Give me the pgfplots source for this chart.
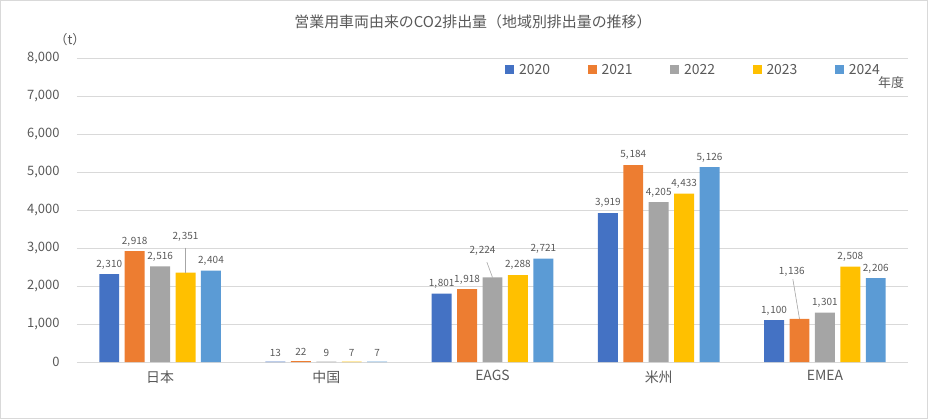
\documentclass[border=0pt]{standalone}
\usepackage{fontspec}
\setmainfont{Noto Sans CJK JP}
\usepackage{pgfplots}
\pgfplotsset{compat=1.18}

\definecolor{c20}{HTML}{4472C4}
\definecolor{c21}{HTML}{ED7D31}
\definecolor{c22}{HTML}{A5A5A5}
\definecolor{c23}{HTML}{FFC000}
\definecolor{c24}{HTML}{5B9BD5}
\definecolor{txtgray}{HTML}{595959}
\definecolor{gridgray}{HTML}{D9D9D9}

\pgfplotsset{
  lbl/.style={nodes near coords, point meta=explicit symbolic,
    every node near coord/.append style={font=\fontsize{10}{12}\selectfont,
      text=txtgray, inner sep=2bp, yshift=3bp}},
  yearbar/.style={ybar, bar width=0.12, bar shift=0pt, draw=none, fill=#1, lbl},
}

\begin{document}
\begin{tikzpicture}
\useasboundingbox (-77bp,-57bp) rectangle (851bp,362bp);
\draw[gridgray, line width=1bp] (-76.5bp,-56.5bp) rectangle (850.5bp,361.5bp);
\begin{axis}[
  at={(0,0)}, anchor=south west,
  scale only axis, width=831bp, height=304bp,
  xmin=-0.5, xmax=4.5, ymin=0, ymax=8000,
  xtick={0,1,2,3,4},
  xticklabels={日本,中国,EAGS,米州,EMEA},
  ytick={0,1000,...,8000},
  scaled y ticks=false,
  ymajorgrids, grid style={draw=gridgray, line width=0.8bp},
  axis x line*=bottom, axis y line*=left,
  x axis line style={draw=gridgray, line width=0.8bp, -},
  y axis line style={draw=none},
  major tick length=0pt,
  /pgf/number format/assume math mode=true,
  /pgf/number format/1000 sep={,},
  yticklabel style={font=\fontsize{13}{15}\selectfont, text=txtgray, xshift=-14bp},
  xticklabel style={font=\fontsize{14}{16}\selectfont, text=txtgray, yshift=-5bp},
  clip=false,
  legend columns=5,
  legend style={draw=none, fill=none, at={(0.515,0.961)}, anchor=west,
    font=\fontsize{14}{16}\selectfont, text=txtgray, inner sep=0pt,
    /tikz/every even column/.append style={column sep=35.5bp}},
  legend image code/.code={\fill[#1] (0bp,-4.5bp) rectangle (9bp,4.5bp); \path (12bp,0bp);},
]
% 2020
\addplot[yearbar=c20] coordinates {
  (-0.306,2310) [2,\kern0.8bp310]
  (0.694,13) [13]
  (1.694,1801) [1,\kern0.8bp801]
  (2.694,3919) [3,\kern0.8bp919]
  (3.694,1100) [1,\kern0.8bp100]
};
% 2021
\addplot[yearbar=c21] coordinates {
  (-0.153,2918) [2,\kern0.8bp918]
  (0.847,22) [22]
  (1.847,1918) [1,\kern0.8bp918]
  (2.847,5184) [5,\kern0.8bp184]
  (3.847,1136) []
};
% 2022
\addplot[yearbar=c22] coordinates {
  (0,2516) [2,\kern0.8bp516]
  (1,9) [9]
  (2,2224) []
  (3,4205) [4,\kern0.8bp205]
  (4,1301) [1,\kern0.8bp301]
};
% 2023
\addplot[yearbar=c23] coordinates {
  (0.153,2351) []
  (1.153,7) [7]
  (2.153,2288) [2,\kern0.8bp288]
  (3.153,4433) [4,\kern0.8bp433]
  (4.153,2508) [2,\kern0.8bp508]
};
% 2024
\addplot[yearbar=c24] coordinates {
  (0.306,2404) [2,\kern0.8bp404]
  (1.306,7) [7]
  (2.306,2721) [2,\kern0.8bp721]
  (3.306,5126) [5,\kern0.8bp126]
  (4.306,2206) [2,\kern0.8bp206]
};
\legend{2020,2021,2022,2023,2024}
% labels moved away from their bars, with leader lines
\addplot[forget plot, draw=none, lbl] coordinates {
  (0.153,3026) [2,\kern0.8bp351]
  (1.940,2658) [2,\kern0.8bp224]
  (3.801,2105) [1,\kern0.8bp136]
};
\addplot[forget plot, draw=gray!70, line width=0.6bp] coordinates {(0.153,3010) (0.153,2351)};
\addplot[forget plot, draw=gray!70, line width=0.6bp] coordinates {(1.966,2630) (2.0,2224)};
\addplot[forget plot, draw=gray!70, line width=0.6bp] coordinates {(3.807,2184) (3.847,1136)};

\node[font=\fontsize{15}{17}\selectfont, text=txtgray] at (axis description cs:0.4765,1.118)
  {営業用車両由来のCO2排出量（地域別排出量の推移）};
\node[font=\fontsize{13}{15}\selectfont, text=txtgray] at (axis description cs:-0.0084,1.059) {（t）};
\node[font=\fontsize{13}{15}\selectfont, text=txtgray] at (axis description cs:0.9796,0.918) {年度};
\end{axis}
\end{tikzpicture}
\end{document}
